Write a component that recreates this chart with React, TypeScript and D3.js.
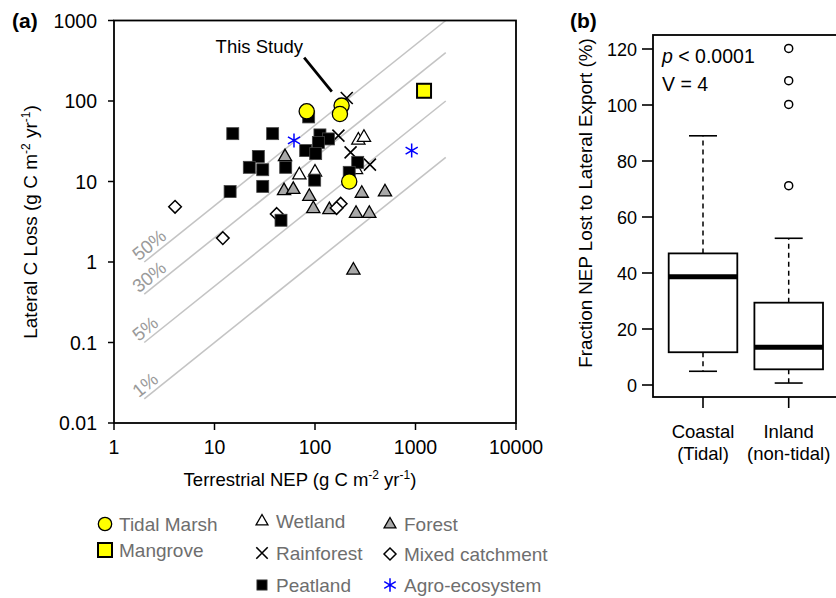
import React from "react";
import * as d3 from "d3";

// ---------- Panel (a) data: [Terrestrial NEP, Lateral C loss] ----------
const tidalMarsh: [number, number][] = [[82.7, 74.5], [184, 87.7], [177, 69], [219, 10.0]];
const mangrove: [number, number][] = [[1216, 134]];
const wetland: [number, number][] = [[270, 33], [307, 35.7], [69.8, 12.2], [100, 13.2], [256, 14.2]];
const forest: [number, number][] = [
  [50.3, 20.5], [49.2, 7.75], [60.8, 8.05], [87.8, 6.6], [96.2, 4.65], [139, 4.5],
  [292, 7.2], [497, 7.5], [256, 4.06], [347, 4.06], [241, 0.8],
];
const rainforest: [number, number][] = [[207, 109], [171, 37.1], [226, 23], [352, 16.2]];
const mixedCatchment: [number, number][] = [[4.05, 4.85], [12.1, 1.98], [41.6, 3.95], [180, 5.3], [164, 4.68]];
const peatland: [number, number][] = [
  [15.2, 39.3], [37.9, 39.3], [86.5, 63.4], [112, 37.9], [136, 33.8], [108, 30.6],
  [80.8, 24.2], [101.6, 22.2], [27.3, 20.5], [22.2, 15.0], [30.2, 14.0], [51.1, 15.0],
  [266, 17.3], [219, 13.0], [99.3, 10.4], [30.2, 8.7], [14.3, 7.5], [45.9, 3.3],
];
const agroEcosystem: [number, number][] = [[61.8, 32.4], [916, 24.2]];

const xTicksA = [1, 10, 100, 1000, 10000];
const xTickLabelsA = ["1", "10", "100", "1000", "10000"];
const yTicksA = [0.01, 0.1, 1, 10, 100, 1000];
const yTickLabelsA = ["0.01", "0.1", "1", "10", "100", "1000"];

const ratioValues = [0.5, 0.2, 0.05, 0.01];
const ratioLabels = ["50%", "30%", "5%", "1%"];
const ratioRange = [2, 2000];

// annotation (data coordinates)
const thisStudyText = "This Study";
const thisStudyTextAt: [number, number] = [76, 400];
const thisStudyLine: [number, number][] = [[78, 346], [147, 131]];

// ---------- Panel (b) data ----------
const boxGroups = ["Coastal", "Inland"];
const boxGroupLine2 = ["(Tidal)", "(non-tidal)"];
const boxLowerWhisker = [4.9, 0.7];
const boxQ1 = [11.7, 5.6];
const boxMedian = [38.7, 13.5];
const boxQ3 = [47, 29.4];
const boxUpperWhisker = [89, 52.4];
const inlandOutliers = [120.2, 108.7, 100.2, 71.2];
const yTicksB = [0, 20, 40, 60, 80, 100, 120];

const FONT = "'Liberation Sans', Arial, Helvetica, sans-serif";

type Shape = "circle" | "mangrove" | "triangleOpen" | "triangleGray" | "cross" | "diamond" | "square" | "asterisk";

function Marker({ shape, x, y, s = 1 }: { shape: Shape; x: number; y: number; s?: number }) {
  const t = `translate(${x},${y})`;
  switch (shape) {
    case "circle":
      return <circle cx={x} cy={y} r={7.6 * s} fill="#ffff00" stroke="#000" strokeWidth={1.3} />;
    case "mangrove": {
      const h = 7 * s;
      return <rect x={x - h} y={y - h} width={2 * h} height={2 * h} fill="#ffff00" stroke="#000" strokeWidth={2} />;
    }
    case "square": {
      const h = 6 * s;
      return <rect x={x - h} y={y - h} width={2 * h} height={2 * h} fill="#000" stroke="#444" strokeWidth={0.8} />;
    }
    case "triangleOpen":
    case "triangleGray": {
      const a = 6.6 * s;
      const p = `M0,${-a * 1.1}L${a},${a * 0.65}L${-a},${a * 0.65}Z`;
      return (
        <path transform={t} d={p} fill={shape === "triangleGray" ? "#a8a8a8" : "#fff"} stroke="#000" strokeWidth={1.3} strokeLinejoin="miter" />
      );
    }
    case "diamond": {
      const a = 6.3 * s;
      return <path transform={t} d={`M0,${-a}L${a},0L0,${a}L${-a},0Z`} fill="#fff" stroke="#000" strokeWidth={1.5} />;
    }
    case "cross": {
      const a = 6 * s;
      return <path transform={t} d={`M${-a},${-a}L${a},${a}M${-a},${a}L${a},${-a}`} stroke="#000" strokeWidth={1.6} fill="none" />;
    }
    case "asterisk": {
      const a = 7 * s;
      const c = Math.cos(Math.PI / 6) * a, sn = Math.sin(Math.PI / 6) * a;
      return (
        <path transform={t} d={`M0,${-a}L0,${a}M${-c},${-sn}L${c},${sn}M${-c},${sn}L${c},${-sn}`} stroke="#0000ff" strokeWidth={1.5} fill="none" />
      );
    }
  }
  return null;
}

const series: { name: string; shape: Shape; data: [number, number][] }[] = [
  { name: "Forest", shape: "triangleGray", data: forest },
  { name: "Wetland", shape: "triangleOpen", data: wetland },
  { name: "Mixed catchment", shape: "diamond", data: mixedCatchment },
  { name: "Rainforest", shape: "cross", data: rainforest },
  { name: "Peatland", shape: "square", data: peatland },
  { name: "Agro-ecosystem", shape: "asterisk", data: agroEcosystem },
  { name: "Tidal Marsh", shape: "circle", data: tidalMarsh },
  { name: "Mangrove", shape: "mangrove", data: mangrove },
];

// legend layout
const legendLayout: { name: string; shape: Shape; x: number; y: number; s: number }[] = [
  { name: "Tidal Marsh", shape: "circle", x: 105, y: 524, s: 0.88 },
  { name: "Mangrove", shape: "mangrove", x: 105, y: 550, s: 1 },
  { name: "Wetland", shape: "triangleOpen", x: 262, y: 521, s: 0.9 },
  { name: "Rainforest", shape: "cross", x: 262, y: 553, s: 0.95 },
  { name: "Peatland", shape: "square", x: 262, y: 585, s: 0.85 },
  { name: "Forest", shape: "triangleGray", x: 390, y: 524, s: 0.9 },
  { name: "Mixed catchment", shape: "diamond", x: 390, y: 554, s: 0.95 },
  { name: "Agro-ecosystem", shape: "asterisk", x: 390, y: 585, s: 0.95 },
];

export default function App() {
  const xA = d3.scaleLog().domain([1, 10000]).range([114, 516]);
  const yA = d3.scaleLog().domain([0.01, 1000]).range([423, 20.5]);

  const yB = d3.scaleLinear().domain([0, 120]).range([385, 49]);
  const xB = d3.scalePoint<string>().domain(boxGroups).range([703, 788.7]);
  const boxHalf = 34.3;
  const capHalf = 14;

  const angle =
    (Math.atan2(yA(ratioRange[1]) - yA(ratioRange[0]), xA(ratioRange[1]) - xA(ratioRange[0])) * 180) / Math.PI;

  const supSize = 12;

  return (
    <svg width={836} height={598} style={{ position: "absolute", left: 0, top: 0, display: "block", background: "#fff" }} fontFamily={FONT}>
      <rect x={0} y={0} width={836} height={598} fill="#fff" />

      {/* ===== Panel (a) ===== */}
      <text x={12} y={28} fontSize={21} fontWeight="bold">(a)</text>

      {/* ratio lines */}
      {ratioValues.map((r, i) => {
        const d = d3.line<number>().x((v) => xA(v)).y((v) => yA(v * r))(ratioRange) || "";
        const x0 = xA(ratioRange[0]);
        const y0 = yA(ratioRange[0] * r);
        return (
          <g key={"r" + i}>
            <path d={d} stroke="#c4c4c4" strokeWidth={1.6} fill="none" />
            <text transform={`translate(${x0},${y0}) rotate(${angle})`} x={-4} y={-4} fontSize={18.5} fill="#9a9a9a">
              {ratioLabels[i]}
            </text>
          </g>
        );
      })}

      {/* points */}
      {series.map((sr) =>
        sr.data.map((p, j) => <Marker key={sr.name + j} shape={sr.shape} x={xA(p[0])} y={yA(p[1])} />)
      )}

      {/* this study annotation */}
      <text x={xA(thisStudyTextAt[0])} y={yA(thisStudyTextAt[1])} fontSize={18.5} textAnchor="end">{thisStudyText}</text>
      <line
        x1={xA(thisStudyLine[0][0])}
        y1={yA(thisStudyLine[0][1])}
        x2={xA(thisStudyLine[1][0])}
        y2={yA(thisStudyLine[1][1])}
        stroke="#000"
        strokeWidth={2.8}
      />

      {/* frame */}
      <rect x={114} y={20.5} width={402} height={402.5} fill="none" stroke="#000" strokeWidth={1.8} />

      {/* axes ticks */}
      {xTicksA.map((t, i) => (
        <g key={"xt" + i}>
          <line x1={xA(t)} x2={xA(t)} y1={423} y2={430} stroke="#000" strokeWidth={1.5} />
          <text x={xA(t)} y={454} fontSize={19.5} textAnchor="middle">{xTickLabelsA[i]}</text>
        </g>
      ))}
      {yTicksA.map((t, i) => (
        <g key={"yt" + i}>
          <line x1={108} x2={114} y1={yA(t)} y2={yA(t)} stroke="#000" strokeWidth={1.5} />
          <text x={97} y={yA(t) + 7} fontSize={19.5} textAnchor="end">{yTickLabelsA[i]}</text>
        </g>
      ))}

      {/* axis titles */}
      <text x={300} y={486} fontSize={18.5} textAnchor="middle">
        Terrestrial NEP (g C m
        <tspan fontSize={supSize} dy={-7}>-2</tspan>
        <tspan dy={7}> yr</tspan>
        <tspan fontSize={supSize} dy={-7}>-1</tspan>
        <tspan dy={7}>)</tspan>
      </text>
      <text transform={`translate(37,222) rotate(-90)`} fontSize={19} textAnchor="middle">
        Lateral C Loss (g C m
        <tspan fontSize={supSize} dy={-7}>-2</tspan>
        <tspan dy={7}> yr</tspan>
        <tspan fontSize={supSize} dy={-7}>-1</tspan>
        <tspan dy={7}>)</tspan>
      </text>

      {/* legend */}
      {legendLayout.map((l) => (
        <g key={"lg" + l.name}>
          <Marker shape={l.shape} x={l.x} y={l.y} s={l.s} />
          <text x={l.x + 14} y={l.y + 6.5} fontSize={19} fill="#6e6e6e">{l.name}</text>
        </g>
      ))}

      {/* ===== Panel (b) ===== */}
      <text x={570} y={28} fontSize={21} fontWeight="bold">(b)</text>

      {boxGroups.map((g, i) => {
        const cx = xB(g) as number;
        return (
          <g key={"bx" + i}>
            <line x1={cx} x2={cx} y1={yB(boxQ3[i])} y2={yB(boxUpperWhisker[i])} stroke="#000" strokeWidth={1.5} strokeDasharray="5,4" />
            <line x1={cx} x2={cx} y1={yB(boxQ1[i])} y2={yB(boxLowerWhisker[i])} stroke="#000" strokeWidth={1.5} strokeDasharray="5,4" />
            <line x1={cx - capHalf} x2={cx + capHalf} y1={yB(boxUpperWhisker[i])} y2={yB(boxUpperWhisker[i])} stroke="#000" strokeWidth={1.6} />
            <line x1={cx - capHalf} x2={cx + capHalf} y1={yB(boxLowerWhisker[i])} y2={yB(boxLowerWhisker[i])} stroke="#000" strokeWidth={1.6} />
            <rect x={cx - boxHalf} y={yB(boxQ3[i])} width={2 * boxHalf} height={yB(boxQ1[i]) - yB(boxQ3[i])} fill="#fff" stroke="#000" strokeWidth={1.8} />
            <line x1={cx - boxHalf} x2={cx + boxHalf} y1={yB(boxMedian[i])} y2={yB(boxMedian[i])} stroke="#000" strokeWidth={5} />
            <line x1={cx} x2={cx} y1={397} y2={408} stroke="#000" strokeWidth={1.6} />
            <text x={cx} y={438} fontSize={18.5} textAnchor="middle">{g}</text>
            <text x={cx} y={460} fontSize={18.5} textAnchor="middle">{boxGroupLine2[i]}</text>
          </g>
        );
      })}
      {inlandOutliers.map((v, i) => (
        <circle key={"o" + i} cx={xB(boxGroups[1]) as number} cy={yB(v)} r={4} fill="none" stroke="#000" strokeWidth={1.5} />
      ))}

      <rect x={653} y={35} width={200} height={362} fill="none" stroke="#000" strokeWidth={1.8} />
      {yTicksB.map((t) => (
        <g key={"ybt" + t}>
          <line x1={642} x2={653} y1={yB(t)} y2={yB(t)} stroke="#000" strokeWidth={1.6} />
          <text x={637} y={yB(t) + 6.5} fontSize={18} textAnchor="end">{t}</text>
        </g>
      ))}
      <text x={662} y={63} fontSize={19.5}>
        <tspan fontStyle="italic">p</tspan> &lt; 0.0001
      </text>
      <text x={662} y={90.5} fontSize={19.5}>V = 4</text>
      <text transform={`translate(592,203) rotate(-90)`} fontSize={18.8} textAnchor="middle">
        Fraction NEP Lost to Lateral Export (%)
      </text>
    </svg>
  );
}
